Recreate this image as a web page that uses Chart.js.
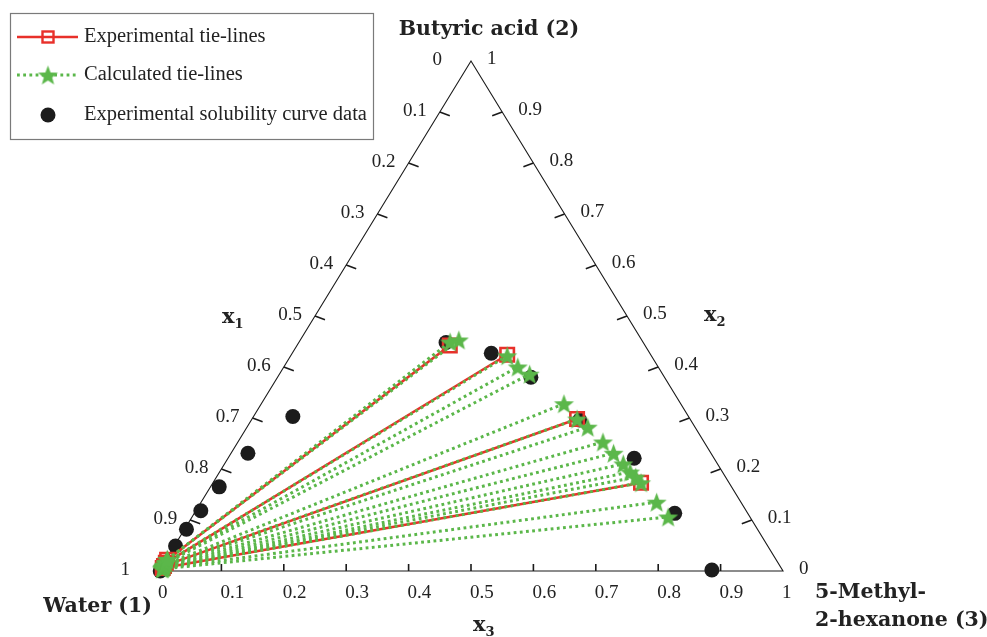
<!DOCTYPE html>
<html>
<head>
<meta charset="utf-8">
<script src="https://cdn.jsdelivr.net/npm/chart.js@4/dist/chart.umd.min.js"></script>
<style>
  html, body { margin: 0; padding: 0; background: #fff; overflow: hidden; }
  canvas { display: block; }
</style>
</head>
<body>
<canvas id="tern" width="987" height="637"></canvas>
<script>
// Mole fractions: x2 = butyric acid, x3 = 5-methyl-2-hexanone, x1 (water) = 1 - x2 - x3

// Experimental solubility (binodal) curve
const solubilityX2 = [0.000, 0.049, 0.082, 0.118, 0.165, 0.231, 0.303, 0.448, 0.427, 0.380, 0.296, 0.221, 0.113, 0.002];
const solubilityX3 = [0.002, 0.002, 0.003, 0.008, 0.014, 0.027, 0.063, 0.236, 0.319, 0.406, 0.526, 0.651, 0.770, 0.885];

// Experimental tie-lines: raffinate (water-rich) and extract (ketone-rich) ends
const expRaffinateX2 = [0.022, 0.016, 0.010, 0.006];
const expRaffinateX3 = [0.002, 0.003, 0.003, 0.003];
const expExtractX2   = [0.442, 0.424, 0.298, 0.173];
const expExtractX3   = [0.245, 0.346, 0.521, 0.686];

// Calculated tie-lines (model)
const calcRaffinateX2 = [0.022, 0.023, 0.017, 0.016, 0.015, 0.012, 0.011, 0.010, 0.009, 0.008, 0.0075, 0.007, 0.0065, 0.006, 0.005, 0.004];
const calcRaffinateX3 = [0.002, 0.002, 0.003, 0.003, 0.003, 0.003, 0.003, 0.003, 0.003, 0.003, 0.003, 0.003, 0.003, 0.003, 0.003, 0.003];
const calcExtractX2   = [0.449, 0.453, 0.422, 0.400, 0.386, 0.328, 0.298, 0.282, 0.253, 0.231, 0.210, 0.194, 0.184, 0.173, 0.135, 0.106];
const calcExtractX3   = [0.242, 0.254, 0.347, 0.375, 0.401, 0.485, 0.521, 0.546, 0.585, 0.613, 0.639, 0.658, 0.672, 0.686, 0.730, 0.763];

// Axis ticks
const tickValues = [0, 0.1, 0.2, 0.3, 0.4, 0.5, 0.6, 0.7, 0.8, 0.9, 1];
const tickLabels = ['0', '0.1', '0.2', '0.3', '0.4', '0.5', '0.6', '0.7', '0.8', '0.9', '1'];

const legendLabels = ['Experimental tie-lines', 'Calculated tie-lines', 'Experimental solubility curve data'];
const componentTop = 'Butyric acid (2)';
const componentLeft = 'Water (1)';
const componentRight = ['5-Methyl-', '2-hexanone (3)'];

const RED = '#e8302a';
const GREEN = '#5bb74a';
const BLACK = '#1c1c1c';
const TEXT = '#222';
const SERIF = '"Liberation Serif", "Times New Roman", serif';
const BOLD = 'bold 20.5px "DejaVu Serif", serif';

// Ternary -> Cartesian (x along the base, y = height fraction)
function tern(x2, x3) {
  return { x: x3 + x2 / 2, y: x2 };
}

// Filled five-pointed star used as the calculated-point marker
function makeStar(R, color) {
  const pad = 1;
  const size = Math.ceil(2 * R + 2 * pad);
  const c = document.createElement('canvas');
  c.width = size; c.height = size;
  const g = c.getContext('2d');
  const cx = size / 2, cy = size / 2 + R * 0.1;
  const r = R * 0.42;
  g.beginPath();
  for (let i = 0; i < 10; i++) {
    const rad = (i % 2 === 0) ? R : r;
    const a = -Math.PI / 2 + i * Math.PI / 5;
    const px = cx + rad * Math.cos(a), py = cy + rad * Math.sin(a);
    if (i === 0) g.moveTo(px, py); else g.lineTo(px, py);
  }
  g.closePath();
  g.fillStyle = color;
  g.fill();
  return c;
}
const starImg = makeStar(10.5, GREEN);

const datasets = [];

// Calculated tie-lines (drawn on top)
for (let i = 0; i < calcExtractX2.length; i++) {
  datasets.push({
    label: legendLabels[1],
    data: [tern(calcRaffinateX2[i], calcRaffinateX3[i]), tern(calcExtractX2[i], calcExtractX3[i])],
    showLine: true,
    borderColor: GREEN,
    borderWidth: 3,
    borderDash: [2.8, 3.4],
    pointStyle: starImg,
    pointRadius: 10,
    clip: false,
    order: 0
  });
}

// Experimental tie-lines
for (let i = 0; i < expExtractX2.length; i++) {
  datasets.push({
    label: legendLabels[0],
    data: [tern(expRaffinateX2[i], expRaffinateX3[i]), tern(expExtractX2[i], expExtractX3[i])],
    showLine: true,
    borderColor: RED,
    borderWidth: 2.6,
    pointStyle: 'rect',
    pointRadius: 9.5,
    pointBorderWidth: 2.6,
    pointBorderColor: RED,
    pointBackgroundColor: 'rgba(0,0,0,0)',
    clip: false,
    order: 1
  });
}

// Solubility curve points
datasets.push({
  label: legendLabels[2],
  data: solubilityX2.map((v, i) => tern(v, solubilityX3[i])),
  showLine: false,
  pointStyle: 'circle',
  pointRadius: 7.5,
  pointBorderWidth: 0,
  pointBackgroundColor: BLACK,
  clip: false,
  order: 2
});

// Triangle frame, ticks, tick labels and component names
const ternaryFrame = {
  id: 'ternaryFrame',
  beforeDatasetsDraw(chart) {
    const ctx = chart.ctx;
    const xs = chart.scales.x, ys = chart.scales.y;
    const P = (x2, x3) => {
      const t = tern(x2, x3);
      return [xs.getPixelForValue(t.x), ys.getPixelForValue(t.y)];
    };
    ctx.save();
    ctx.strokeStyle = '#1a1a1a';
    ctx.lineWidth = 1.1;
    const W = P(0, 0), K = P(0, 1), T = P(1, 0);   // water, ketone, acid vertices
    ctx.beginPath();
    ctx.moveTo(W[0], W[1]); ctx.lineTo(T[0], T[1]); ctx.lineTo(K[0], K[1]); ctx.closePath();
    ctx.stroke();

    ctx.lineWidth = 1.6;
    ctx.beginPath();
    for (let k = 1; k < tickValues.length - 1; k++) {
      const v = tickValues[k];
      // base (x3)
      let p = P(0, v);
      ctx.moveTo(p[0], p[1]); ctx.lineTo(p[0], p[1] - 7);
      // left edge (x1)
      p = P(1 - v, 0);
      ctx.moveTo(p[0], p[1]); ctx.lineTo(p[0] + 10, p[1] + 3.7);
      // right edge (x2)
      p = P(v, 1 - v);
      ctx.moveTo(p[0], p[1]); ctx.lineTo(p[0] - 10, p[1] + 3.7);
    }
    ctx.stroke();

    ctx.fillStyle = TEXT;
    ctx.font = '19px ' + SERIF;
    ctx.textBaseline = 'middle';
    for (let k = 0; k < tickValues.length; k++) {
      const v = tickValues[k];
      // base labels
      let p = P(0, v);
      ctx.textAlign = 'left';
      ctx.fillText(tickLabels[k], p[0] - 1, p[1] + 22);
      // left-edge labels
      p = P(1 - v, 0);
      ctx.textAlign = 'right';
      const off = (k === 0 || k === tickValues.length - 1) ? 29 : 13;
      ctx.fillText(tickLabels[k], p[0] - off, p[1] - 1);
      // right-edge labels
      p = P(v, 1 - v);
      ctx.textAlign = 'left';
      ctx.fillText(tickLabels[k], p[0] + 16, p[1] - 2);
    }

    // component names
    ctx.font = BOLD;
    ctx.textBaseline = 'alphabetic';
    ctx.textAlign = 'center';
    ctx.fillText(componentTop, T[0] + 18, 35);
    ctx.textAlign = 'right';
    ctx.fillText(componentLeft, W[0] - 7, 612);
    ctx.textAlign = 'left';
    ctx.fillText(componentRight[0], K[0] + 32, 598);
    ctx.fillText(componentRight[1], K[0] + 32, 626);

    // axis symbols x1, x2, x3
    const sym = (x, y, sub) => {
      ctx.font = 'bold 21px "DejaVu Serif", serif';
      ctx.textAlign = 'left';
      ctx.fillText('x', x, y);
      const w = ctx.measureText('x').width;
      ctx.font = 'bold 13px "DejaVu Serif", serif';
      ctx.fillText(sub, x + w, y + 5);
    };
    sym(222, 323, '1');
    sym(704, 321, '2');
    sym(473, 631, '3');
    ctx.restore();
  },
  afterDraw(chart) {
    // legend box
    const ctx = chart.ctx;
    ctx.save();
    ctx.fillStyle = '#fff';
    ctx.fillRect(10, 13, 363, 126);
    ctx.strokeStyle = '#7a7a7a';
    ctx.lineWidth = 1.2;
    ctx.strokeRect(10.5, 13.5, 363, 126);

    const rows = [37, 75, 115];
    const x0 = 17, x1 = 78, xm = 48;
    // experimental tie-line sample
    ctx.strokeStyle = RED;
    ctx.lineWidth = 2.6;
    ctx.beginPath(); ctx.moveTo(x0, rows[0]); ctx.lineTo(x1, rows[0]); ctx.stroke();
    ctx.lineWidth = 2.4;
    ctx.strokeRect(xm - 5.5, rows[0] - 5.5, 11, 11);
    // calculated tie-line sample
    ctx.strokeStyle = GREEN;
    ctx.lineWidth = 3;
    ctx.setLineDash([2.8, 3.4]);
    ctx.beginPath(); ctx.moveTo(x0, rows[1]); ctx.lineTo(x1, rows[1]); ctx.stroke();
    ctx.setLineDash([]);
    ctx.drawImage(starImg, xm - starImg.width / 2, rows[1] - starImg.height / 2);
    // solubility data sample
    ctx.fillStyle = BLACK;
    ctx.beginPath(); ctx.arc(xm, rows[2], 7.5, 0, Math.PI * 2); ctx.fill();

    ctx.fillStyle = TEXT;
    ctx.font = '20.5px ' + SERIF;
    ctx.textAlign = 'left';
    ctx.textBaseline = 'middle';
    for (let i = 0; i < legendLabels.length; i++) {
      ctx.fillText(legendLabels[i], 84, rows[i]);
    }
    ctx.restore();
  }
};

new Chart(document.getElementById('tern'), {
  type: 'scatter',
  data: { datasets },
  options: {
    responsive: false,
    animation: false,
    devicePixelRatio: 1,
    events: [],
    layout: { padding: { left: 159, right: 204, top: 61, bottom: 66 } },
    scales: {
      x: { type: 'linear', min: 0, max: 1, display: false },
      y: { type: 'linear', min: 0, max: 1, display: false }
    },
    plugins: {
      legend: { display: false },
      tooltip: { enabled: false }
    }
  },
  plugins: [ternaryFrame]
});
</script>
</body>
</html>
